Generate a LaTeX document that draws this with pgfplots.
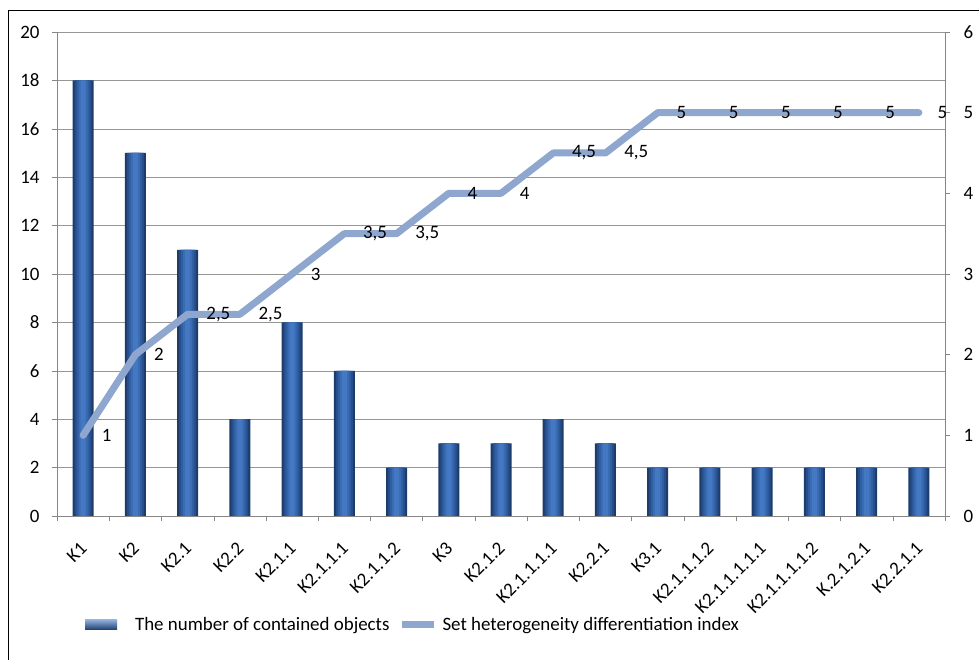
\documentclass[border=0pt]{standalone}
\usepackage{pgfplots}
\pgfplotsset{compat=1.18}
\usepackage{fontspec}
\setmainfont{Carlito}

\definecolor{barA}{RGB}{28,60,108}
\definecolor{barB}{RGB}{38,78,138}
\definecolor{barC}{RGB}{48,94,162}
\definecolor{barD}{RGB}{58,108,180}
\definecolor{barE}{RGB}{68,120,194}
\definecolor{linec}{RGB}{143,166,206}
\definecolor{axisgray}{RGB}{134,134,134}
\definecolor{gridgray}{RGB}{150,150,150}

\newcommand{\chartfont}{\fontsize{19}{22}\selectfont}

\pgfplotsset{
  barlegend/.style={legend image code/.code={%
    \shade[top color=barE!60!white, bottom color=barA] (0bp,-5bp) rectangle (32bp,5bp);}},
  linelegend/.style={legend image code/.code={%
    \draw[overlay, line width=7bp, color=linec] (4bp,0bp) -- (36bp,0bp);
    \path[draw=none, fill=none] (0bp,-5bp) rectangle (27bp,5bp);}},
  common/.style={
    scale only axis, width=888bp, height=484bp,
    at={(57bp,144bp)}, anchor=south west,
    xmin=-0.5, xmax=16.5,
    tick align=outside, major tick length=5bp,
    every tick/.style={axisgray, thin},
    axis line style={axisgray, thin},
    /pgf/number format/assume math mode=true,
    tick label style={font=\chartfont},
  },
  layer/.style 2 args={ybar, bar width=#1, bar shift=0pt, draw=none, fill=#2},
}

% number of contained objects per class
\pgfplotstableread{
x n
0 18
1 15
2 11
3 4
4 8
5 6
6 2
7 3
8 3
9 4
10 3
11 2
12 2
13 2
14 2
15 2
16 2
}\objects

% heterogeneity differentiation index per class
\pgfplotstableread{
x h
0 1
1 2
2 2.5
3 2.5
4 3
5 3.5
6 3.5
7 4
8 4
9 4.5
10 4.5
11 5
12 5
13 5
14 5
15 5
16 5
}\index

\begin{document}
\begin{tikzpicture}
\useasboundingbox (0,0) rectangle (979bp,660bp);
\draw[line width=1.8bp] (8.5bp,0bp) -- (8.5bp,649.5bp) -- (979bp,649.5bp);

\begin{axis}[
  common,
  axis x line*=bottom, axis y line*=left,
  ymin=0, ymax=20, ytick={0,2,...,20},
  yticklabel style={xshift=-9bp},
  ymajorgrids, grid style={gridgray, thin},
  xtick={-0.5,0.5,...,16.5},
  x tick label as interval,
  xticklabels={K1,K2,K2.1,K2.2,K2.1.1,K2.1.1.1,K2.1.1.2,K3,K2.1.2,K2.1.1.1.1,K2.2.1,K3.1,K2.1.1.1.2,K2.1.1.1.1.1,K2.1.1.1.1.2,K.2.1.2.1,K2.2.1.1},
  xticklabel style={yshift=-22bp, xshift=3bp, rotate=45, anchor=east},
  legend columns=2,
  legend style={draw=none, fill=none, at={(0.028,-0.225)}, anchor=west,
    font=\chartfont,
    /tikz/every odd column/.append style={column sep=16bp},
    /tikz/every even column/.append style={column sep=6bp}},
]
% cylinder-like bars: nested layers from dark rim to bright core
\addplot[layer={21bp}{barA}, barlegend] table[x=x, y=n] {\objects};
\addlegendentry{The number of contained objects}
\addplot[layer={17bp}{barB}, forget plot] table[x=x, y=n] {\objects};
\addplot[layer={13bp}{barC}, forget plot] table[x=x, y=n] {\objects};
\addplot[layer={9bp}{barD}, forget plot] table[x=x, y=n] {\objects};
\addplot[layer={5bp}{barE}, forget plot] table[x=x, y=n] {\objects};
\addlegendimage{linelegend}
\addlegendentry{Set heterogeneity differentiation index}
\end{axis}

\begin{axis}[
  common,
  axis x line=none, axis y line*=right,
  ymin=0, ymax=6, ytick={0,...,6},
  yticklabel style={xshift=10bp},
  /pgf/number format/use comma,
]
\addplot[color=linec, line width=7bp, line cap=round, line join=round,
  nodes near coords, point meta=y,
  every node near coord/.append style={anchor=west, xshift=12bp,
    text=black, font=\chartfont}]
  table[x=x, y=h] {\index};
\end{axis}
\end{tikzpicture}
\end{document}
